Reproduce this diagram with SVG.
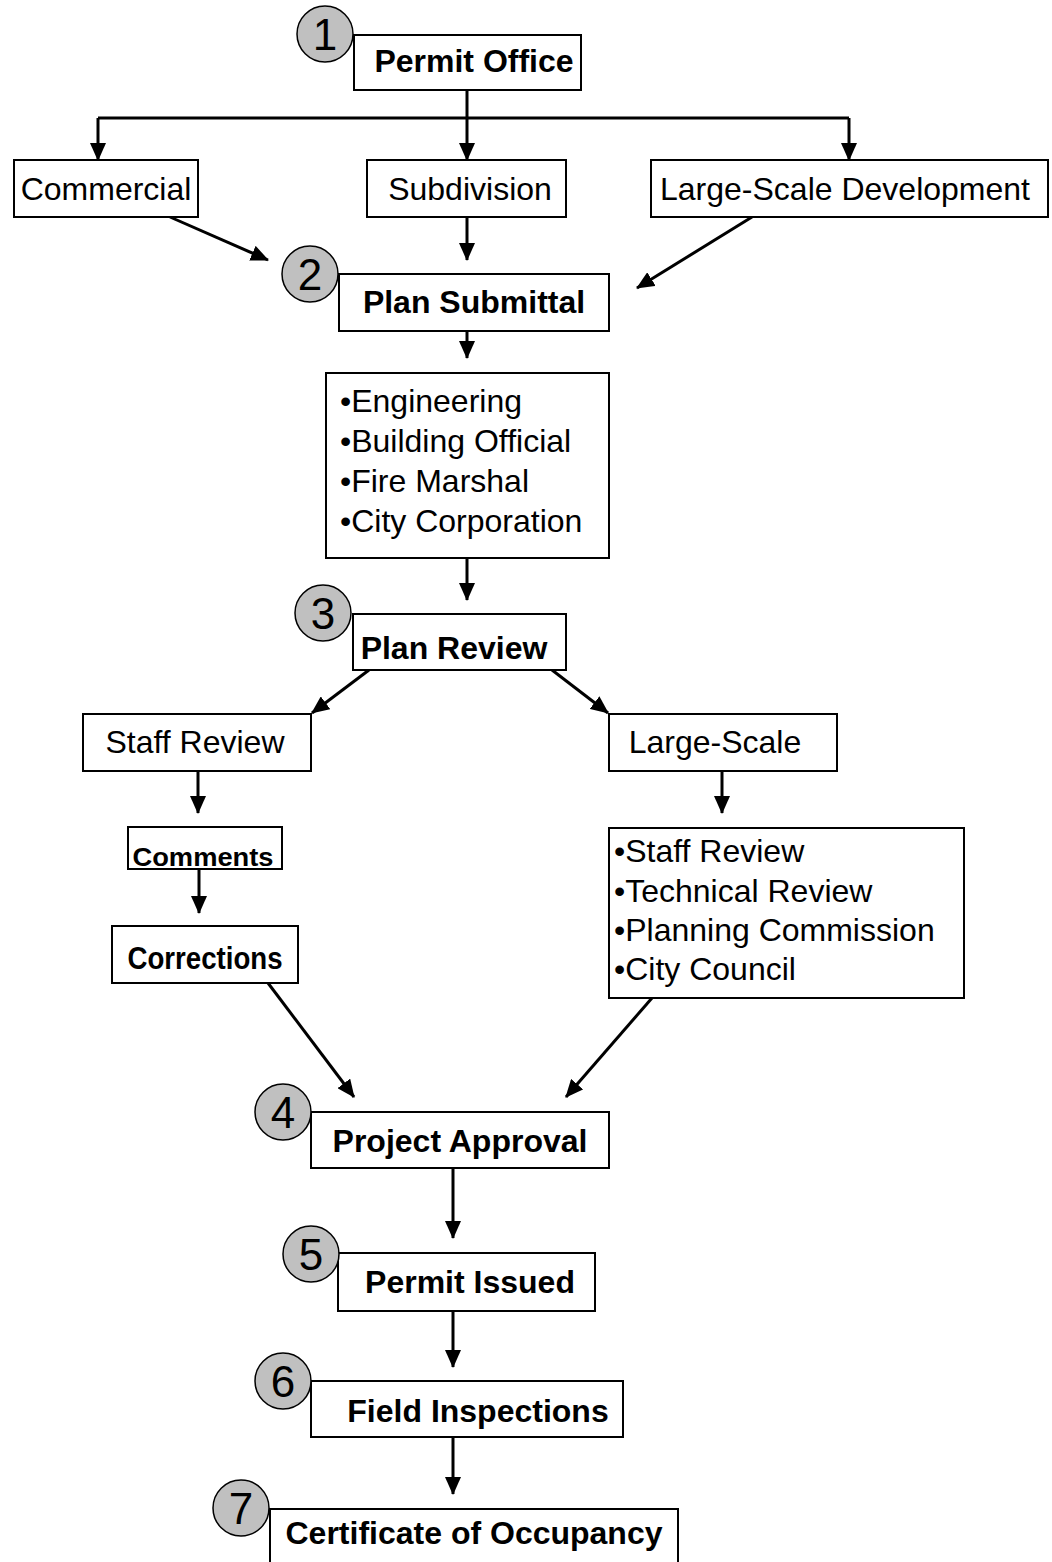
<svg xmlns="http://www.w3.org/2000/svg" width="1052" height="1562" viewBox="0 0 1052 1562">
<style>
text{font-family:"Liberation Sans",Arial,sans-serif;fill:#000}
.box{fill:#fff;stroke:#000;stroke-width:2}
.num{fill:#c0c0c0;stroke:#000;stroke-width:1.5}
.nt{font-size:44px;text-anchor:middle}
.b{font-size:32px;font-weight:bold;text-anchor:middle}
.r{font-size:32px;text-anchor:middle}
.l{font-size:32px}
.s{font-size:26px;font-weight:bold;text-anchor:middle}
.c{fill:none;stroke:#000;stroke-width:3}
.a{marker-end:url(#ah)}
</style>
<defs>
<marker id="ah" markerUnits="userSpaceOnUse" markerWidth="18" markerHeight="16" refX="17" refY="8" orient="auto" viewBox="0 0 18 16">
<path d="M0,0 L18,8 L0,16 z" fill="#000"/>
</marker>
</defs>
<rect width="1052" height="1562" fill="#fff"/>
<g id="connectors">
<path class="c" d="M98,118 H849"/>
<path class="c a" d="M467,90 V160"/>
<path class="c a" d="M98,118 V160"/>
<path class="c a" d="M849,118 V160"/>
<path class="c a" d="M170,217 L268,260"/>
<path class="c a" d="M467,217 V260"/>
<path class="c a" d="M752,217 L637,288"/>
<path class="c a" d="M467,331 V358"/>
<path class="c a" d="M467,558 V600"/>
<path class="c a" d="M369,670 L312,713"/>
<path class="c a" d="M552,670 L608,713"/>
<path class="c a" d="M198,771 V813"/>
<path class="c a" d="M199,869 V913"/>
<path class="c a" d="M722,771 V813"/>
<path class="c a" d="M268,983 L354,1097"/>
<path class="c a" d="M652,998 L566,1097"/>
<path class="c a" d="M453,1168 V1238"/>
<path class="c a" d="M453,1311 V1367"/>
<path class="c a" d="M453,1437 V1494"/>
</g>
<g id="permit-office">
<rect class="box" x="354" y="35" width="227" height="55"/>
<text class="b" x="474" y="72">Permit Office</text>
<circle class="num" cx="325" cy="34" r="28"/>
<text class="nt" x="325" y="50">1</text>
</g>
<g id="commercial">
<rect class="box" x="14" y="160" width="184" height="57"/>
<text class="r" x="106" y="200">Commercial</text>
</g>
<g id="subdivision">
<rect class="box" x="367" y="160" width="199" height="57"/>
<text class="r" x="470" y="200">Subdivision</text>
</g>
<g id="large-scale-development">
<rect class="box" x="651" y="160" width="397" height="57"/>
<text class="r" x="845" y="200">Large-Scale Development</text>
</g>
<g id="plan-submittal">
<rect class="box" x="339" y="274" width="270" height="57"/>
<text class="b" x="474" y="313">Plan Submittal</text>
<circle class="num" cx="310" cy="274" r="28"/>
<text class="nt" x="310" y="290">2</text>
</g>
<g id="departments">
<rect class="box" x="326" y="373" width="283" height="185"/>
<text class="l" x="340" y="412">•Engineering</text>
<text class="l" x="340" y="452">•Building Official</text>
<text class="l" x="340" y="492">•Fire Marshal</text>
<text class="l" x="340" y="532">•City Corporation</text>
</g>
<g id="plan-review">
<rect class="box" x="353" y="614" width="213" height="56"/>
<text class="b" x="454" y="659">Plan Review</text>
<circle class="num" cx="323" cy="613" r="28"/>
<text class="nt" x="323" y="629">3</text>
</g>
<g id="staff-review">
<rect class="box" x="83" y="714" width="228" height="57"/>
<text class="r" x="195" y="753">Staff Review</text>
</g>
<g id="large-scale">
<rect class="box" x="609" y="714" width="228" height="57"/>
<text class="r" x="715" y="753">Large-Scale</text>
</g>
<g id="comments">
<rect class="box" x="128" y="827" width="154" height="42"/>
<text class="s" x="203" y="866" textLength="141" lengthAdjust="spacingAndGlyphs">Comments</text>
</g>
<g id="corrections">
<rect class="box" x="112" y="926" width="186" height="57"/>
<text class="b" x="205" y="969" font-size="27" textLength="155" lengthAdjust="spacingAndGlyphs">Corrections</text>
</g>
<g id="large-scale-reviews">
<rect class="box" x="609" y="828" width="355" height="170"/>
<text class="l" x="614" y="862">•Staff Review</text>
<text class="l" x="614" y="902">•Technical Review</text>
<text class="l" x="614" y="941">•Planning Commission</text>
<text class="l" x="614" y="980">•City Council</text>
</g>
<g id="project-approval">
<rect class="box" x="311" y="1112" width="298" height="56"/>
<text class="b" x="460" y="1152">Project Approval</text>
<circle class="num" cx="283" cy="1112" r="28"/>
<text class="nt" x="283" y="1128">4</text>
</g>
<g id="permit-issued">
<rect class="box" x="338" y="1253" width="257" height="58"/>
<text class="b" x="470" y="1293">Permit Issued</text>
<circle class="num" cx="311" cy="1254" r="28"/>
<text class="nt" x="311" y="1270">5</text>
</g>
<g id="field-inspections">
<rect class="box" x="311" y="1381" width="312" height="56"/>
<text class="b" x="478" y="1422">Field Inspections</text>
<circle class="num" cx="283" cy="1381" r="28"/>
<text class="nt" x="283" y="1397">6</text>
</g>
<g id="certificate-of-occupancy">
<rect class="box" x="270" y="1509" width="408" height="70"/>
<text class="b" x="474" y="1544">Certificate of Occupancy</text>
<circle class="num" cx="241" cy="1508" r="28"/>
<text class="nt" x="241" y="1524">7</text>
</g>
</svg>
